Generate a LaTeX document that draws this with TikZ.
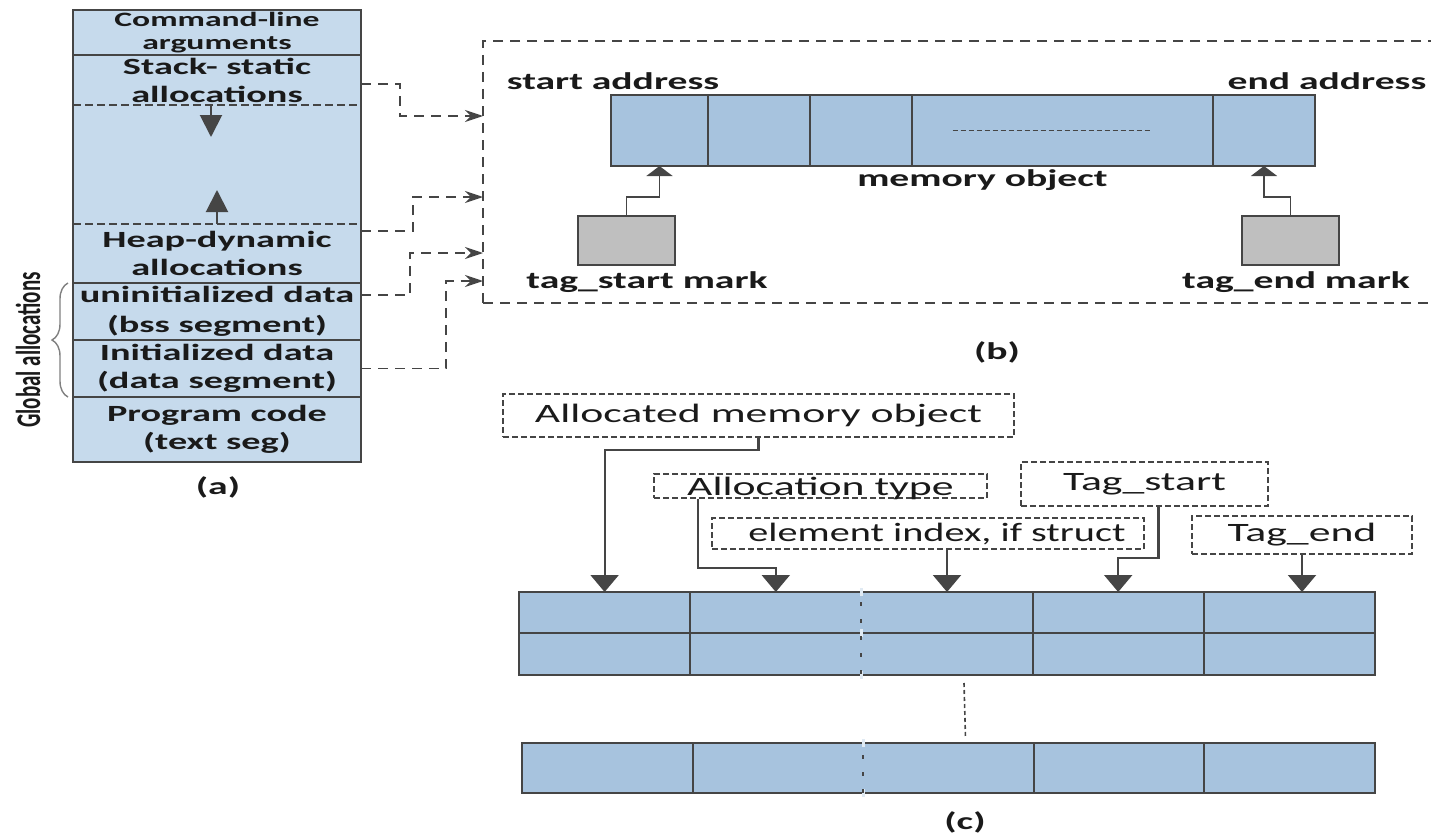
\documentclass[tikz,border=0pt]{standalone}
\usepackage{fontspec}
\usepackage{graphicx}
\usepackage{tikz}
\usetikzlibrary{positioning, arrows.meta, calc, decorations.pathreplacing}
\setmainfont{Carlito}
\newfontfamily\plainface{Carlito}
\newfontfamily\wideface{Carlito}[FakeStretch=1.65]
\definecolor{segBlue}{HTML}{C6DAEC}
\definecolor{cellBlue}{HTML}{A7C3DE}
\definecolor{tagGrey}{HTML}{BFBFBF}
\definecolor{lineGrey}{HTML}{454545}
\definecolor{inkDark}{HTML}{1A1A1A}

\begin{document}
\begin{tikzpicture}[x=0.5pt, y=-0.5pt, text=inkDark,
  seg/.style={fill=segBlue, minimum width=144pt, inner sep=0pt, outer sep=0pt, align=center,
    font=\wideface\bfseries\fontsize{11.6}{14}\selectfont},
  segline/.style={draw=lineGrey, line width=1pt},
  segdash/.style={draw=lineGrey, line width=0.8pt, dash pattern=on 4pt off 2pt},
  aarrow/.style={draw=lineGrey, line width=1pt, -{Triangle[width=11pt, length=11pt]}},
  dlink/.style={draw=lineGrey, line width=0.8pt, dash pattern=on 5pt off 3.5pt, -{Stealth[length=9pt, width=6pt]}},
  cellb/.style={draw=lineGrey, fill=cellBlue, line width=0.9pt, minimum height=35.5pt, inner sep=0pt, outer sep=0pt},
  tagbox/.style={draw=lineGrey, fill=tagGrey, line width=0.9pt, minimum width=48.5pt, minimum height=24.5pt, inner sep=0pt},
  lab/.style={font=\wideface\bfseries\fontsize{12}{14}\selectfont, inner sep=0pt},
  barrow/.style={draw=lineGrey, line width=0.9pt, -{Triangle[width=13pt, length=5pt]}},
  cellc/.style={fill=cellBlue, inner sep=0pt, outer sep=0pt, minimum width=85.6pt},
  gridline/.style={draw=lineGrey, line width=1pt},
  gridgap/.style={draw=cellBlue!35!white, line width=1.6pt},
  dotdiv/.style={draw=lineGrey, line width=1pt, dash pattern=on 2pt off 6.5pt},
  lblbox/.style={draw=lineGrey, line width=0.7pt, dash pattern=on 3pt off 1.5pt, inner sep=0pt,
    font=\wideface\fontsize{13.25}{15}\selectfont},
  carrow/.style={draw=lineGrey, line width=1.1pt, -{Triangle[width=14pt, length=8.5pt]}},
  subcap/.style={font=\wideface\bfseries\fontsize{12}{14}\selectfont}]
\useasboundingbox (0,0) rectangle (1431,835);

% (a) process memory layout
\node[seg, anchor=north west, minimum height=22.5pt, font=\wideface\bfseries\fontsize{10.2}{11.5}\selectfont]
  (cmd) at (73,10) {Command-line\\arguments};
\node[seg, minimum height=25pt, below=0pt of cmd] (stack) {Stack- static\\allocations};
\node[seg, minimum height=59.5pt, below=0pt of stack] (grow) {};
\node[seg, minimum height=29.5pt, below=0pt of grow] (heap) {Heap-dynamic\\allocations};
\node[seg, minimum height=28.5pt, below=0pt of heap, font=\wideface\bfseries\fontsize{11.6}{15}\selectfont]
  (bss) {uninitialized data\\(bss segment)};
\node[seg, minimum height=28.5pt, below=0pt of bss] (data) {Initialized data\\(data segment)};
\node[seg, minimum height=32.5pt, below=0pt of data] (code) {Program code\\(text seg)};
\draw[segline] (cmd.south west) -- (cmd.south east);
\draw[segdash] (stack.south west) -- (stack.south east);
\draw[segdash] (grow.south west) -- (grow.south east);
\draw[segline] (heap.south west) -- (heap.south east);
\draw[segline] (bss.south west) -- (bss.south east);
\draw[segline] (data.south west) -- (data.south east);
\draw[segline] (cmd.north west) rectangle (code.south east);
\draw[aarrow] ($(stack.south)+(-6,0)$) -- ++(0,32);
\draw[aarrow] (heap.north) -- ++(0,-34);
\draw[draw=gray, line width=0.7pt, decorate, decoration={brace, amplitude=8pt}]
  ($(data.south west)+(-5,0)$) -- ($(bss.north west)+(-5,0)$);
\node[rotate=90, font=\plainface\bfseries\fontsize{10.5}{12}\selectfont, inner sep=0pt]
  (glob) at (28,350) {\scalebox{1}[1.65]{Global allocations}};
\node[subcap] (capa) at (218,487) {(a)};

% (b) tagged memory object
\node[draw=lineGrey, line width=0.8pt, dash pattern=on 5pt off 3.5pt, minimum width=483.5pt, minimum height=131pt,
  inner sep=0pt, outer sep=0pt, anchor=north west] (frameb) at (483,41) {};
\node[cellb, minimum width=48.5pt, anchor=north west] (c1) at (611,95) {};
\node[cellb, minimum width=51pt, right=0pt of c1] (c2) {};
\node[cellb, minimum width=51pt, right=0pt of c2] (c3) {};
\node[cellb, minimum width=150.5pt, right=0pt of c3] (c4) {};
\node[cellb, minimum width=51pt, right=0pt of c4] (c5) {};
\draw[draw=lineGrey, line width=0.6pt, dash pattern=on 2.5pt off 1.5pt]
  ($(c4.center)+(-110,0)$) -- ($(c4.center)+(90,0)$);
\node[lab, anchor=base] (saddr) at ($(c1.north west)+(2,-5)$) {start address};
\node[lab, anchor=base] (eaddr) at ($(c5.north east)+(12,-5)$) {end address};
\node[lab, anchor=base] (mobj) at ($(c4.south)+(-80,20)$) {memory object};
\node[tagbox] (tsbox) at (626.5,240.5) {};
\node[tagbox] (tebox) at (1290.5,240.5) {};
\node[lab, anchor=base] (tslab) at (647,288) {tag\_start mark};
\node[lab, anchor=base] (telab) at (1296,288) {tag\_end mark};
\draw[barrow] (tsbox.north) -- ++(0,-18) -| (c1.south);
\draw[barrow] (tebox.north) -- ++(0,-18) -| (c5.south);
\node[subcap] (capb) at (997,352) {(b)};

\coordinate (inStack) at ($(frameb.north west)+(0,75)$);
\coordinate (inHeap) at ($(frameb.north west)+(0,156)$);
\coordinate (inBss) at ($(frameb.north west)+(0,212)$);
\coordinate (inData) at ($(frameb.north west)+(0,240)$);
\draw[dlink] ($(stack.east)+(0,4)$) -| ($(inStack)+(-83,0)$) -- (inStack);
\draw[dlink] ($(heap.north east)+(0,7)$) -| ($(inHeap)+(-70,0)$) -- (inHeap);
\draw[dlink] ($(bss.north east)+(0,12)$) -| ($(inBss)+(-73,0)$) -- (inBss);
\draw[dlink] (data.east) -| ($(inData)+(-37,0)$) -- (inData);

% (c) metadata table
\foreach \i in {1,...,5} {
  \node[cellc, minimum height=20.5pt, anchor=north west] (r1c\i) at ({519+171.2*(\i-1)},592) {};
  \node[cellc, minimum height=21pt, anchor=north west] (r2c\i) at ({519+171.2*(\i-1)},633) {};
  \node[cellc, minimum height=25pt, minimum width=85.3pt, anchor=north west] (r3c\i) at ({522+170.6*(\i-1)},743) {};
}
\draw[gridline] (r1c1.north west) rectangle (r2c5.south east);
\draw[gridline] (r1c1.south west) -- (r1c5.south east);
\draw[gridline] (r3c1.north west) rectangle (r3c5.south east);
\foreach \i in {1,3,4} {
  \draw[gridline] (r1c\i.north east) -- (r2c\i.south east);
  \draw[gridline] (r3c\i.north east) -- (r3c\i.south east);
}
\foreach \p in {r1c2.north east, r1c2.south east, r2c2.south east, r3c2.north east, r3c2.south east}
  \draw[gridgap] ($(\p)+(0,-4)$) -- ($(\p)+(0,4)$);
\draw[dotdiv] ($(r1c2.north east)+(0,10)$) -- (r2c2.south east);
\draw[dotdiv] ($(r3c2.north east)+(0,12)$) -- (r3c2.south east);
\draw[draw=lineGrey, line width=0.8pt, dash pattern=on 2pt off 1.5pt]
  ($(r2c3.south)+(17,8)$) -- ($(r3c3.north)+(17,-5)$);

\node[lblbox, minimum width=255.5pt, minimum height=21.5pt] (amo) at (758.5,415.5) {Allocated memory object};
\node[lblbox, minimum width=166.5pt, minimum height=12pt, text height=9pt, text depth=0pt]
  (atype) at (820.5,486) {Allocation type};
\node[lblbox, minimum width=216pt, minimum height=15.5pt] (eidx) at (928,533.5)
  {\hspace*{9pt}\scalebox{0.92}[1]{element index, if struct}};
\node[lblbox, minimum width=123.5pt, minimum height=22pt] (tstart) at (1144.5,484) {Tag\_start};
\node[lblbox, minimum width=110pt, minimum height=19pt] (tend) at (1302,535) {Tag\_end};
\draw[carrow] (amo.south) -- ++(0,12) -| (r1c1.north);
\draw[carrow] ($(atype.south west)+(45,0)$) |- ($(r1c2.north)+(0,-24)$) -- (r1c2.north);
\draw[carrow] (eidx.south -| r1c3.north) -- (r1c3.north);
\draw[carrow] ($(tstart.south)+(14,0)$) |- ($(r1c4.north)+(0,-34)$) -- (r1c4.north);
\draw[carrow] (tend.south) -- (tend.south |- r1c5.north);
\node[subcap] (capc) at (965,822) {(c)};
\end{tikzpicture}
\end{document}
